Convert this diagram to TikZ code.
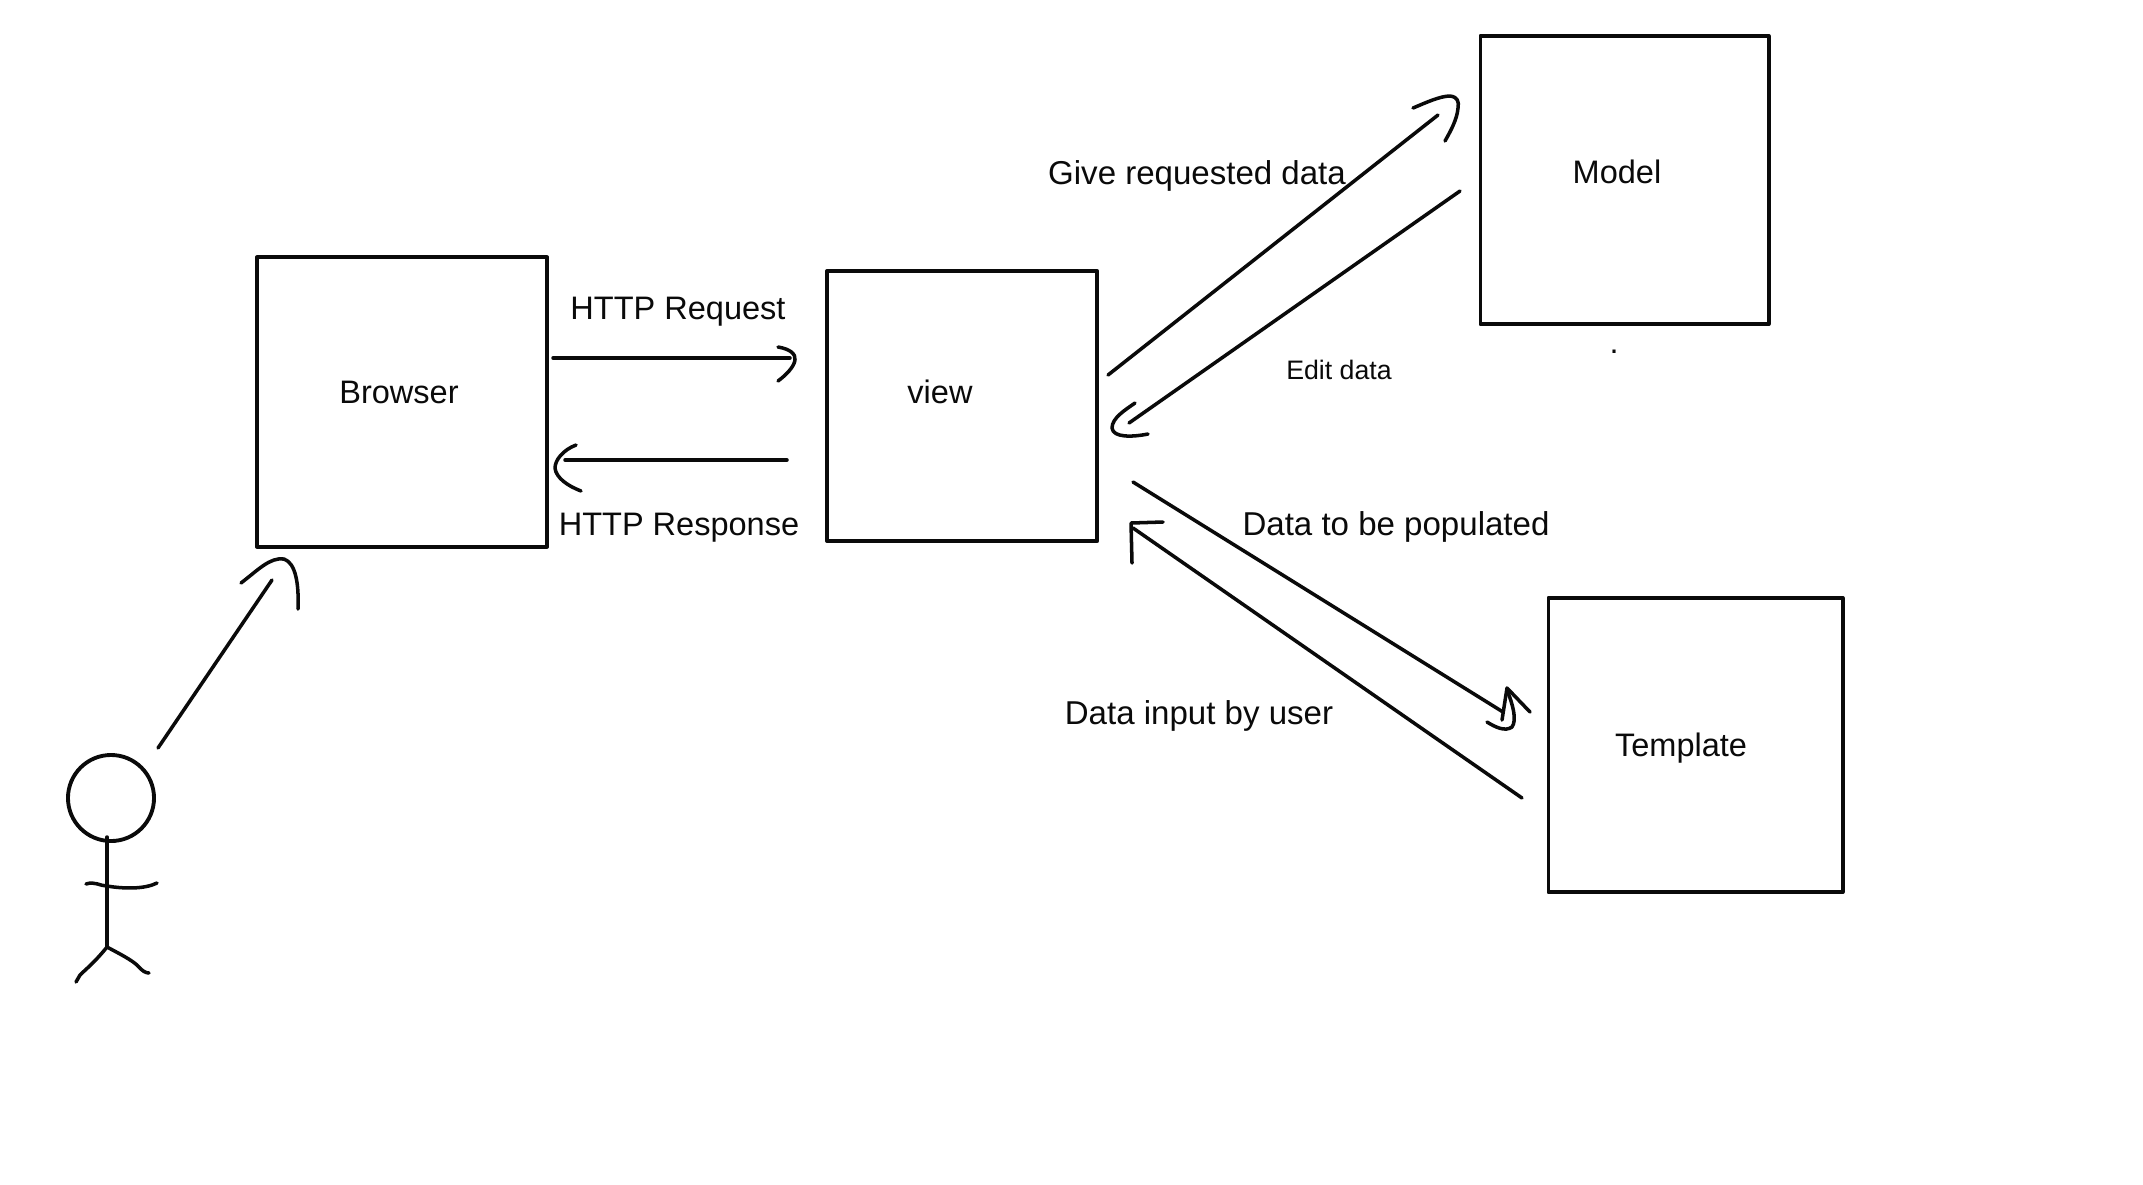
\documentclass[tikz,border=0pt]{standalone}
\usepackage{fontspec}
\setmainfont{Liberation Sans}
\usetikzlibrary{calc}
\definecolor{inkblack}{RGB}{10,10,10}
\newcommand{\lblsize}{\fontsize{9.25}{11}\selectfont}
\newcommand{\widesize}{\fontsize{9.4}{11}\selectfont}
\newcommand{\smallsize}{\fontsize{7.6}{9}\selectfont}

\begin{document}
\begin{tikzpicture}[x=0.01cm,y=-0.01cm,
    box/.style={draw=inkblack,line width=1.1pt,line join=round,inner sep=0pt,outer sep=0pt},
    pen/.style={draw=inkblack,line width=1.0pt,line cap=round,line join=round},
    lbl/.style={anchor=base,inner sep=0pt,text=inkblack,font=\lblsize}]
        \useasboundingbox (0,0) rectangle (2143,1184);
        % Boxes
        \node[box,minimum width=2.90cm,minimum height=2.89cm] (browser) at (402,402){};
        \node[box,minimum width=2.70cm,minimum height=2.70cm] (view) at (962,406){};
        \node[box,minimum width=2.88cm,minimum height=2.88cm] (model) at (1624.5,180){};
        \node[box,minimum width=2.94cm,minimum height=2.94cm] (template) at (1695.5,745){};
        % Box labels
        \node[lbl] (browserlbl) at (399,403.5){Browser};
        \node[lbl] (viewlbl) at (940,403.5){view};
        \node[lbl] (modellbl) at (1617,183.5){Model};
        \node[lbl] (templatelbl) at (1681,756.5){Template};
        \node[lbl] (dotlbl) at (1614,353){.};
        % Arrow labels
        \node[lbl] (reqlbl) at (678,319.5){HTTP Request};
        \node[lbl] (resplbl) at (679,535){HTTP Response};
        \node[lbl,font=\widesize] (givelbl) at (1197,184){Give requested data};
        \node[lbl,font=\smallsize] (editlbl) at (1339,379){Edit data};
        \node[lbl,font=\widesize] (poplbl) at (1396,535){Data to be populated};
        \node[lbl,font=\widesize] (inputlbl) at (1199,724.5){Data input by user};
        % Stick figure
        \node[draw=inkblack,line width=1.1pt,circle,minimum size=0.86cm,inner sep=0pt,outer sep=0pt] (head) at (111,798){};
        \coordinate (hip) at (107,947);
        \draw[pen] (107,837) -- (hip);
        \draw[pen] (86,884) .. controls (95,881) and (100,886) .. (107,886)
          .. controls (125,889) and (145,889) .. (157,883);
        \draw[pen] (hip) .. controls (95,962) and (85,970) .. (80,975) -- (76,982);
        \draw[pen] (hip) .. controls (120,954) and (132,960) .. (138,966)
          .. controls (142,971) and (146,973) .. (149,973);
        % User to browser
        \coordinate (userstart) at (158,748);
        \coordinate (userend) at (272,580);
        \draw[pen] (userstart) -- (userend);
        \draw[pen] (241,583) .. controls (258,570) and (270,557) .. (284,559)
          .. controls (296,563) and (299,585) .. (298,609);
        % HTTP request
        \coordinate (reqstart) at (553,358);
        \coordinate (reqend) at (790,358);
        \draw[pen] (reqstart) -- (reqend);
        \draw[pen] (778,347) .. controls (790,349) and (796,354) .. (795,360)
          .. controls (794,367) and (786,375) .. (778,381);
        % HTTP response
        \coordinate (respstart) at (787,460);
        \coordinate (respend) at (565,460);
        \draw[pen] (respstart) -- (respend);
        \draw[pen] (576,445) .. controls (563,450) and (555,460) .. (555,468)
          .. controls (556,478) and (568,486) .. (581,491);
        % Give requested data
        \coordinate (givestart) at (1108,375);
        \coordinate (giveend) at (1438,115);
        \draw[pen] (givestart) -- (giveend);
        \draw[pen] (1413,108) .. controls (1425,103) and (1440,96) .. (1450,96)
          .. controls (1458,97) and (1459,102) .. (1458,108)
          .. controls (1457,120) and (1450,132) .. (1445,141);
        % Edit data
        \coordinate (editstart) at (1460,191);
        \coordinate (editend) at (1129,423);
        \draw[pen] (editstart) -- (editend);
        \draw[pen] (1135,403) .. controls (1125,410) and (1112,418) .. (1112,428)
          .. controls (1113,438) and (1133,437) .. (1148,434);
        % Data to be populated
        \coordinate (popstart) at (1133,482);
        \coordinate (popend) at (1503,712);
        \draw[pen] (popstart) -- (popend);
        \draw[pen] (1502,720) -- (1507,688) -- (1530,712);
        \draw[pen] (1507,690) .. controls (1513,705) and (1517,720) .. (1512,727)
          .. controls (1505,732) and (1495,727) .. (1487,722);
        % Data input by user
        \coordinate (inputstart) at (1522,798);
        \coordinate (inputend) at (1133,528);
        \draw[pen] (inputstart) -- (inputend);
        \draw[pen] (1132,563) -- (1131,523) -- (1163,522);
      \end{tikzpicture}
\end{document}
